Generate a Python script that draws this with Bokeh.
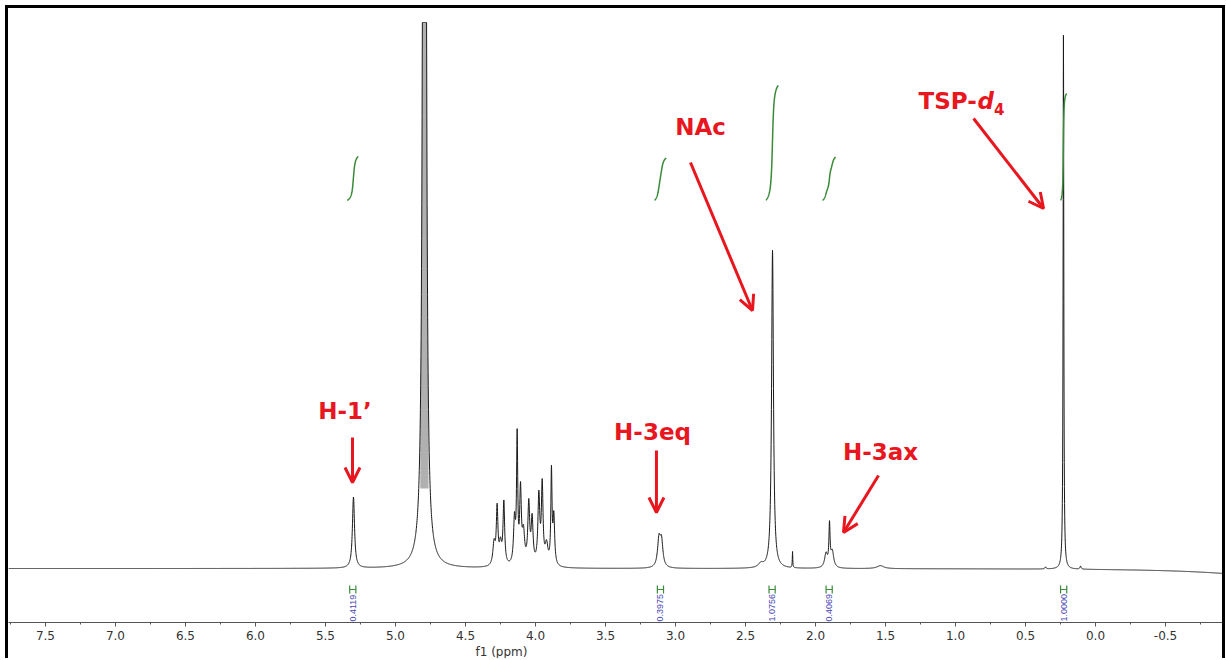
import numpy as np
from bokeh.plotting import figure
from bokeh.models import (Range1d, FixedTicker, PrintfTickFormatter, Label, Arrow,
                          OpenHead, ColumnDataSource, Title)
from bokeh.embed import file_html
from bokeh.resources import INLINE
from bokeh.core.properties import value

# ---------------- data ----------------
# resolved lines of the 1H spectrum: shift (ppm), height (a.u.), half width (ppm)
PEAK_PPM = [5.300, 4.793,
            4.296, 4.274, 4.250, 4.226, 4.150, 4.131, 4.107, 4.086, 4.048, 4.024,
            3.976, 3.952, 3.921, 3.886, 3.869,
            3.118, 3.100, 2.390, 2.307, 2.164, 1.925, 1.900, 1.880, 1.536,
            0.357, 0.229, 0.107, -1.300]
PEAK_HEIGHT = [71, 15000,
               22, 56, 20, 62, 44, 124, 72, 30, 60, 44,
               68, 78, 20, 92, 48,
               27, 25, 4, 318, 16, 14, 41, 16, 3,
               2, 534, 3, -8]
PEAK_HWHM = [0.009, 0.003,
             0.010, 0.007, 0.010, 0.007, 0.008, 0.005, 0.007, 0.010, 0.008, 0.008,
             0.008, 0.007, 0.012, 0.005, 0.007,
             0.012, 0.012, 0.020, 0.008, 0.002, 0.012, 0.005, 0.012, 0.030,
             0.005, 0.003, 0.005, 0.500]
CLIP_LEVEL = 546          # display clipping of the solvent line

# integrations
INTEGRAL_LABELS = ["0.4119", "0.3975", "1.0756", "0.4069", "1.0000"]
INTEGRAL_VALUES = [0.4119, 0.3975, 1.0756, 0.4069, 1.0000]
INTEGRAL_FROM = [5.345, 3.150, 2.355, 1.950, 0.250]
INTEGRAL_TO = [5.265, 3.065, 2.265, 1.855, 0.205]
INTEGRAL_BASE = 368
INTEGRAL_SCALE = 107

# annotations
ANNOT_TEXT = ["H-1\u2019", "H-3eq", "NAc", "H-3ax"]
ANNOT_X = [5.36, 3.164, 2.821, 1.536]
ANNOT_Y = [158, 137, 442, 117]
ARROW_X0 = [5.307, 3.136, 2.893, 1.550, 0.871]
ARROW_Y0 = [131, 118, 406, 93, 450]
ARROW_X1 = [5.307, 3.136, 2.450, 1.800, 0.371]
ARROW_Y1 = [86, 56, 258, 36, 360]

TICKS = [7.5, 7.0, 6.5, 6.0, 5.5, 5.0, 4.5, 4.0, 3.5, 3.0, 2.5, 2.0, 1.5, 1.0, 0.5, 0.0, -0.5]
MINOR_TICKS = [t - 0.25 for t in TICKS] + [7.75]

RED = "#e8161e"
GREEN = "#3a8a3a"

# ---------------- spectrum ----------------
X_LEFT, X_RIGHT = 7.764, -0.907
ppm = np.arange(X_LEFT, X_RIGHT, -0.001)
spec = np.zeros_like(ppm)
for c, h, w in zip(PEAK_PPM, PEAK_HEIGHT, PEAK_HWHM):
    spec += h * w * w / ((ppm - c) ** 2 + w * w)
spec_disp = np.minimum(spec, CLIP_LEVEL)

p = figure(frame_width=1214, frame_height=614,
           x_range=Range1d(X_LEFT, X_RIGHT), y_range=Range1d(-54, 560),
           output_backend="svg", toolbar_location=None, y_axis_location=None,
           min_border_left=0, min_border_right=0, min_border_top=0, min_border_bottom=36,
           background_fill_color="white", border_fill_color="white")
p.outline_line_color = None
p.xgrid.visible = False
p.ygrid.visible = False
p.styles = {"margin-left": "5px", "margin-top": "5px",
            "border-top": "3px solid black", "border-left": "3px solid black",
            "border-right": "3px solid black"}

ax = p.xaxis[0]
ax.ticker = FixedTicker(ticks=TICKS, minor_ticks=MINOR_TICKS)
ax.formatter = PrintfTickFormatter(format="%.1f")
ax.axis_line_color = "#555555"
ax.major_tick_line_color = "#555555"
ax.minor_tick_line_color = "#555555"
ax.major_tick_in = 0
ax.major_tick_out = 4
ax.minor_tick_in = 0
ax.minor_tick_out = 2
ax.major_label_standoff = 4
ax.major_label_text_font = "DejaVu Sans"
ax.major_label_text_font_size = "12px"
ax.major_label_text_color = "#333333"

p.add_layout(Title(text="f1 (ppm)", align="left", offset=467, standoff=0,
                   text_font="DejaVu Sans", text_font_size="12px",
                   text_font_style="normal", text_color="#333333"), "below")

# solvent column shading
m = np.abs(ppm - 4.793) < 0.03
p.varea(x=ppm[m], y1=np.minimum(spec_disp[m], 80), y2=spec_disp[m], fill_color="#b0b0b0")
p.line(ppm, spec_disp, line_color="#1a1a1a", line_width=1)

# integral curves
xs, ys = [], []
for a, b, v in zip(INTEGRAL_FROM, INTEGRAL_TO, INTEGRAL_VALUES):
    mm = (ppm <= a) & (ppm >= b)
    cs = np.cumsum(spec[mm])
    xs.append(ppm[mm])
    ys.append(INTEGRAL_BASE + INTEGRAL_SCALE * v * cs / cs[-1])
p.multi_line(xs, ys, line_color=GREEN, line_width=1.5)

# integral markers and labels
centers = [(a + b) / 2 for a, b in zip(INTEGRAL_FROM, INTEGRAL_TO)]
hw = 0.022
p.segment(x0=[c - hw for c in centers], y0=[-21] * 5, x1=[c + hw for c in centers], y1=[-21] * 5,
          line_color=GREEN, line_width=1.2)
p.segment(x0=[c - hw for c in centers] + [c + hw for c in centers], y0=[-17] * 10,
          x1=[c - hw for c in centers] + [c + hw for c in centers], y1=[-25] * 10,
          line_color=GREEN, line_width=1.2)
lab_src = ColumnDataSource(dict(x=centers, y=[-53] * 5, t=INTEGRAL_LABELS))
p.text(x="x", y="y", text="t", source=lab_src, angle=np.pi / 2, text_align="left",
       text_baseline="middle", text_font=value("Liberation Sans"), text_font_size="9px",
       text_color="#4646b4")

# red annotations
for t, x, y in zip(ANNOT_TEXT, ANNOT_X, ANNOT_Y):
    p.add_layout(Label(x=x, y=y, text=t, text_align="center", text_baseline="middle",
                       text_font="DejaVu Sans", text_font_style="bold",
                       text_font_size="23px", text_color=RED))
p.add_layout(Label(x=1.264, y=468, text="TSP-", text_align="left", text_baseline="middle",
                   text_font="DejaVu Sans", text_font_style="bold", text_font_size="23px",
                   text_color=RED))
p.add_layout(Label(x=0.843, y=468, text="d", text_align="left", text_baseline="middle",
                   text_font="DejaVu Sans", text_font_style="bold italic", text_font_size="23px",
                   text_color=RED))
p.add_layout(Label(x=0.725, y=460, text="4", text_align="left", text_baseline="middle",
                   text_font="DejaVu Sans", text_font_style="bold", text_font_size="15px",
                   text_color=RED))
for x0, y0, x1, y1 in zip(ARROW_X0, ARROW_Y0, ARROW_X1, ARROW_Y1):
    p.add_layout(Arrow(end=OpenHead(size=15, line_width=3, line_color=RED),
                       x_start=x0, y_start=y0, x_end=x1, y_end=y1,
                       line_color=RED, line_width=3))

open("out.html", "w").write(file_html(p, INLINE))
